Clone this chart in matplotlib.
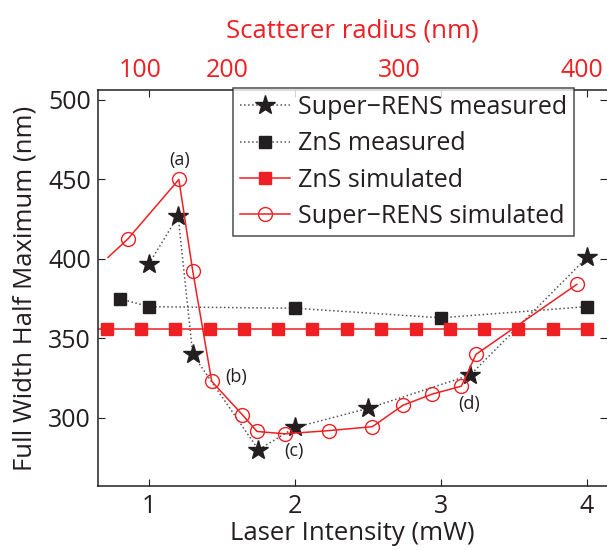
import numpy as np
import matplotlib.pyplot as plt

plt.rcParams['font.family'] = ['Open Sans', 'DejaVu Sans']

# Super-RENS measured (stars)
srens_meas_x = [1.0, 1.2, 1.3, 1.75, 2.0, 2.5, 3.2, 4.0]
srens_meas_y = [397, 427, 340, 280, 294, 306, 327, 401]

# ZnS measured (black squares)
zns_meas_x = [0.80, 1.0, 2.0, 3.0, 4.0]
zns_meas_y = [375, 370, 369, 363, 370]

# ZnS simulated (red squares, flat)
zns_sim_x = [0.48, 0.712, 0.947, 1.18, 1.416, 1.65, 1.886, 2.12, 2.356,
             2.59, 2.826, 3.06, 3.295, 3.53, 3.765, 4.0]
zns_sim_y = [356] * len(zns_sim_x)

# Super-RENS simulated (red open circles)
srens_sim_x = [0.72, 0.856, 1.205, 1.30, 1.43, 1.64, 1.74, 1.93, 2.23,
               2.53, 2.74, 2.94, 3.14, 3.24, 3.93]
srens_sim_y = [401, 412.6, 450, 392.5, 323, 302, 291.5, 290, 292,
               294.5, 308, 315, 320, 340, 384]

# top axis: scatterer radius
radius_pos = [0.938, 1.534, 2.712, 3.966]
radius_labels = ['100', '200', '300', '400']

# point annotations
ann_text = ['(a)', '(b)', '(c)', '(d)']
ann_x = [1.21, 1.60, 1.99, 3.19]
ann_y = [462, 326, 279, 309]

red = '#ee2024'
dark = '#231f20'

fig = plt.figure(figsize=(6.07, 5.5), dpi=100)
ax = fig.add_axes([0.1614, 0.1164, 0.8386, 0.72])

ax.plot(srens_meas_x, srens_meas_y, ':', color='#555555', lw=1.1,
        marker='*', ms=15, mfc=dark, mec=dark, label='Super\u2212RENS measured')
ax.plot(zns_meas_x, zns_meas_y, ':', color='#555555', lw=1.1,
        marker='s', ms=8, mfc=dark, mec=dark, label='ZnS measured')
ax.plot(zns_sim_x, zns_sim_y, '-', color=red, lw=1.1,
        marker='s', ms=8.5, mfc=red, mec=red, label='ZnS simulated')
ax.plot(srens_sim_x, srens_sim_y, '-', color=red, lw=1.1,
        marker='o', ms=10, mfc='none', mec=red, mew=1.0,
        markevery=list(range(1, len(srens_sim_x))), label='Super\u2212RENS simulated')

for t, x, y in zip(ann_text, ann_x, ann_y):
    ax.text(x, y, t, fontsize=13, color=dark, ha='center', va='center')

ax.set_xlim(0.651, 4.137)
ax.set_ylim(257.2, 506.3)
ax.set_xticks([1, 2, 3, 4])
ax.set_yticks([300, 350, 400, 450, 500])
ax.tick_params(direction='in', top=True, right=True, length=5, width=0.8,
               labelsize=18, colors=dark)
ax.tick_params(axis='x', pad=6)
ax.tick_params(axis='y', pad=5)
ax.spines['right'].set_visible(False)
for s in ['left', 'bottom', 'top']:
    ax.spines[s].set_color(dark)
    ax.spines[s].set_linewidth(1.1)

ax.set_xlabel('Laser Intensity (mW)', fontsize=18.5, color=dark, labelpad=1)
ax.set_ylabel('Full Width Half Maximum (nm)', fontsize=18.5, color=dark, labelpad=8)

top = ax.secondary_xaxis('top')
top.set_xticks(radius_pos)
top.set_xticklabels(radius_labels)
top.tick_params(length=0, labelsize=18, colors=red, pad=5)
top.spines['top'].set_visible(False)
top.set_xlabel('Scatterer radius (nm)', fontsize=18.5, color=red, labelpad=15)

leg = ax.legend(loc='upper left', bbox_to_anchor=(0.265, 1.006), fontsize=18,
                frameon=True, fancybox=False, handlelength=2.0, handletextpad=0.3,
                borderpad=0.3, labelspacing=0.45, borderaxespad=0)
leg.get_frame().set_edgecolor(dark)
leg.get_frame().set_linewidth(1.1)
for txt in leg.get_texts():
    txt.set_color(dark)

plt.savefig('out.png', dpi=100)
